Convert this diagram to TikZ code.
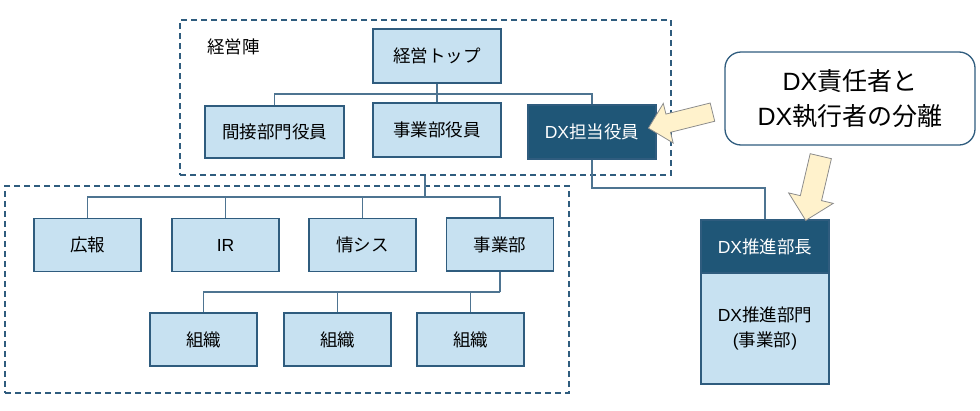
\documentclass[tikz,border=0pt]{standalone}
\usepackage{fontspec}
\setmainfont{Noto Sans CJK JP}
\newfontfamily\orglatin{Liberation Sans}
\usetikzlibrary{shapes.arrows}
\definecolor{orgline}{RGB}{47,92,126}
\definecolor{orgfill}{RGB}{199,225,241}
\definecolor{orgdark}{RGB}{31,86,119}
\definecolor{notefill}{RGB}{255,242,204}
\newcommand{\orgfont}{\linespread{1}\fontsize{17.5}{24.5}\selectfont}
\newcommand{\orgbigfont}{\linespread{1}\fontsize{25}{35}\selectfont}
\newcommand{\lat}[1]{{\orglatin #1}}
\tikzset{
    org/chart/.style={x=1pt, y=-1pt, font=\orgfont, every node/.style={align=center}},
    org/unit/.style={rectangle, draw=orgline, fill=orgfill, line width=1.3pt, minimum width=107pt, minimum height=53pt, inner sep=0pt},
    org/exec/.style={org/unit, minimum width=128pt, minimum height=54pt},
    org/dxunit/.style={org/exec, fill=orgdark, text=white},
    org/frame/.style={rectangle, draw=orgline, dash pattern=on 6pt off 4pt, line width=1.3pt, inner sep=0pt},
    org/callout/.style={rectangle, rounded corners=16pt, draw=orgline, fill=white, line width=1.3pt, font=\orgbigfont, minimum width=250pt, minimum height=93pt},
    org/pointer/.style={single arrow, draw=black!45, fill=notefill, line width=0.8pt, minimum height=66pt, inner xsep=0pt, inner ysep=9pt, single arrow head extend=11pt},
    org/link/.style={draw=orgline!85, line width=1.1pt}
}
\begin{document}
\begin{tikzpicture}[org/chart]
    \useasboundingbox (0,0) rectangle (980,410);
    % frames
    \node[org/frame, minimum width=491pt, minimum height=155pt] (board) at (425.5,97.5) {};
    \node[org/frame, minimum width=564pt, minimum height=207pt] (company) at (287,289.5) {};
    \node[anchor=west, inner sep=0pt] (boardlabel) at (207,47) {経営陣};
    % executives
    \node[org/exec] (top) at (437,56) {経営トップ};
    \node[org/exec, minimum width=139pt, minimum height=52pt] (indirect) at (274.5,132) {間接部門役員};
    \node[org/exec] (bizexec) at (437,130) {事業部役員};
    \node[org/dxunit] (dxexec) at (592,132) {\lat{DX}担当役員};
    % departments
    \node[org/unit] (pr) at (87.5,245) {広報};
    \node[org/unit] (ir) at (225.5,245) {\lat{IR}};
    \node[org/unit] (sys) at (362.5,245) {情シス};
    \node[org/unit] (biz) at (500,244.5) {事業部};
    \node[org/unit] (sec1) at (203.5,339.5) {組織};
    \node[org/unit] (sec2) at (337.5,339.5) {組織};
    \node[org/unit] (sec3) at (470.5,339.5) {組織};
    % DX division
    \node[org/exec, minimum height=111pt] (dxdept) at (765,328.5) {\lat{DX}推進部門\\\lat{(}事業部\lat{)}};
    \node[org/dxunit, minimum height=53pt] (dxhead) at (765,246.5) {\lat{DX}推進部長};
    % note
    \node[org/callout] (note) at (850,98.5) {\lat{DX}責任者と\\\lat{DX}執行者の分離};
    \node[org/pointer, rotate=194] (pointexec) at (685,119) {};
    \node[org/pointer, rotate=256.8, inner ysep=10.5pt, single arrow head extend=12pt] (pointhead) at (814.5,183) {};
    % connectors
    \coordinate (busexec) at (437,94);
    \coordinate (busdept) at (425,197);
    \coordinate (bussec) at (500,292);
    \coordinate (busdx) at (592,188);
    \draw[org/link] (top.south) -- (busexec);
    \foreach \target in {indirect,bizexec,dxexec}
        \draw[org/link] (busexec) -| (\target.north);
    \draw[org/link] (board.south -| busdept) -- (busdept);
    \foreach \target in {pr,ir,sys,biz}
        \draw[org/link] (busdept) -| (\target.north);
    \draw[org/link] (biz.south) -- (bussec);
    \foreach \target in {sec1,sec2,sec3}
        \draw[org/link] (bussec) -| (\target.north);
    \draw[org/link] (dxexec.south) -- (busdx) -| (dxhead.north);
\end{tikzpicture}
\end{document}
